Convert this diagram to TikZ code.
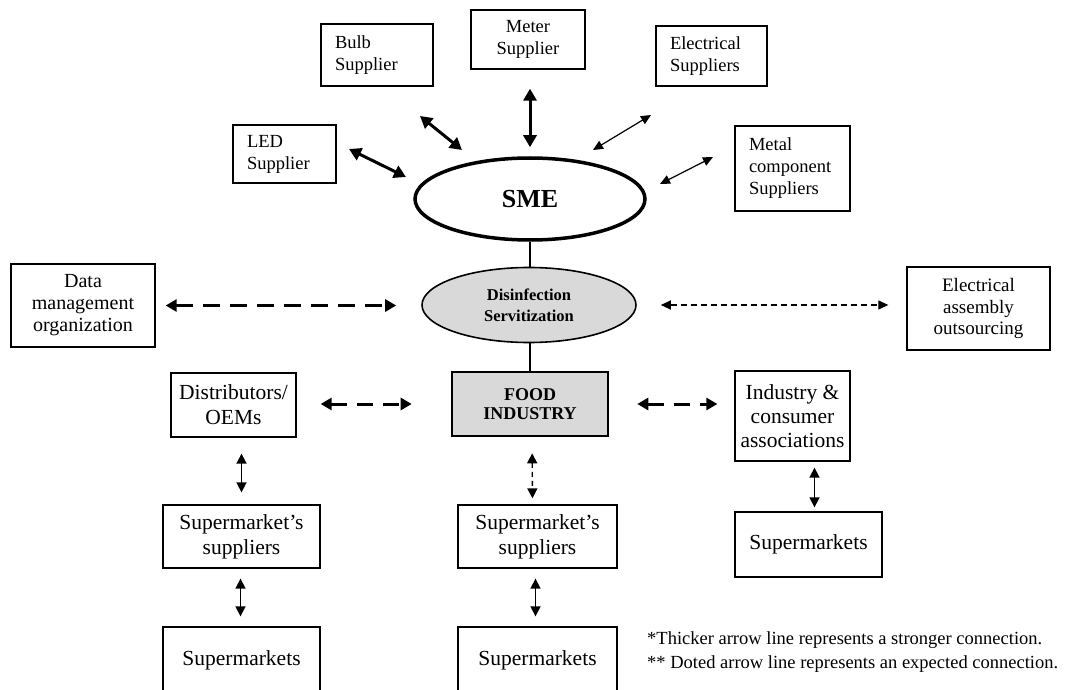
\documentclass[tikz,border=0pt]{standalone}
\usepackage{fontspec}
\setmainfont{Liberation Serif}
\usetikzlibrary{arrows.meta,shapes.geometric,calc}
\newcommand\fsz[2]{\fontsize{#1}{#2}\selectfont}
\definecolor{boxgray}{HTML}{D9D9D9}
\tikzset{
  box/.style={draw, line width=1.3pt, inner sep=0pt, align=center, font=\fsz{19}{22}},
  bigbox/.style={draw, line width=1.3pt, inner sep=0pt, align=center, font=\fsz{21.5}{25}},
  lbox/.style={draw, line width=1.3pt, inner ysep=0pt, inner xsep=14pt, align=left, font=\fsz{18.5}{22}},
  thickarr/.style={line width=3pt, {Triangle[length=12pt,width=13pt]}-{Triangle[length=12pt,width=13pt]}},
  thinarr/.style={line width=1.2pt, {Triangle[length=10pt,width=9pt]}-{Triangle[length=10pt,width=9pt]}},
  medarr/.style={line width=1.6pt, {Triangle[length=10pt,width=10pt]}-{Triangle[length=10pt,width=10pt]}},
  thickdash/.style={line width=3pt, dash pattern=on 17pt off 10pt, {Triangle[length=11pt,width=12pt]}-{Triangle[length=11pt,width=12pt]}},
  thindash/.style={line width=1.2pt, dash pattern=on 6pt off 4pt, {Triangle[length=10pt,width=9pt]}-{Triangle[length=10pt,width=9pt]}},
  vdash/.style={line width=1.4pt, dash pattern=on 5pt off 4pt, {Triangle[length=10pt,width=10pt]}-{Triangle[length=10pt,width=10pt]}},
  link/.style={line width=1.8pt},
}
\begin{document}
\begin{tikzpicture}[x=1pt,y=-1pt]
\useasboundingbox (0,0) rectangle (1077,690);
\clip (0,0) rectangle (1077,690);

% supplier boxes
\node[lbox, text width=84pt, minimum height=62pt] (bulb) at (377,55) {Bulb\\Supplier};
\node[box, font=\fsz{18.5}{22}, minimum width=114pt, minimum height=59pt] (meter) at (528,39.5) {Meter\\Supplier};
\node[lbox, text width=83pt, minimum height=60pt] (elec) at (711.5,56) {Electrical\\Suppliers};
\node[lbox, text width=75pt, minimum height=58pt] (led) at (284.5,154) {LED\\Supplier};
\node[lbox, text width=87pt, minimum height=85pt] (metal) at (792.5,168.5) {Metal\\component\\Suppliers};

% central chain
\node[draw, ellipse, line width=3.5pt, minimum width=230pt, minimum height=82pt, inner sep=0pt,
      font=\fsz{26}{30}\bfseries] (sme) at (530,199) {SME};
\node[draw, ellipse, line width=1.6pt, fill=boxgray, minimum width=214pt, minimum height=75pt, inner sep=0pt,
      align=center, font=\fsz{16.5}{21}\bfseries] (dis) at (529,305) {Disinfection\\Servitization};
\node[draw, line width=2.6pt, fill=boxgray, minimum width=156pt, minimum height=64pt, inner sep=0pt,
      align=center, font=\fsz{18}{19.5}\bfseries] (food) at (530,404) {FOOD\\INDUSTRY};

% side boxes
\node[box, font=\fsz{20}{22}, minimum width=144pt, minimum height=83pt] (dm) at (83,305.5) {Data\\management\\organization};
\node[box, minimum width=143pt, minimum height=83pt, font=\fsz{19}{21.5}] (ea) at (978.5,308.5) {Electrical\\assembly\\outsourcing};
\node[bigbox, minimum width=125pt, minimum height=64pt] (dist) at (233.5,405) {Distributors/\\OEMs};
\node[bigbox, font=\fsz{21.5}{24}, minimum width=115pt, minimum height=90pt] (ind) at (792.5,416) {Industry \&\\consumer\\associations};

% lower boxes
\node[bigbox, minimum width=157pt, minimum height=63pt] (ss1) at (241.5,536.5) {Supermarket's\\suppliers};
\node[bigbox, minimum width=159pt, minimum height=63pt] (ss2) at (537.5,536.5) {Supermarket's\\suppliers};
\node[bigbox, minimum width=147pt, minimum height=65pt] (sm3) at (808.5,544.5) {Supermarkets};
\node[bigbox, minimum width=157pt, minimum height=66pt] (sm1) at (241.5,660) {Supermarkets};
\node[bigbox, minimum width=159pt, minimum height=66pt] (sm2) at (537.5,660) {Supermarkets};

% arrow end points (diagonals)
\coordinate (ledA) at (349,149);  \coordinate (ledB) at (406,177);
\coordinate (bulbA) at (420,116); \coordinate (bulbB) at (462,150);
\coordinate (elecA) at (651,115); \coordinate (elecB) at (593,150);
\coordinate (metA) at (713,157);  \coordinate (metB) at (660,184);

% solid links in the chain
\draw[link] (sme.south) -- (sme.south |- dis.north);
\draw[link] (dis.south -| food.north) -- (food.north);

% supplier arrows
\draw[thickarr] (ledA) -- (ledB);
\draw[thickarr] (bulbA) -- (bulbB);
\draw[thickarr, shorten <=19pt, shorten >=9pt] (meter.south -| sme.north) -- (sme.north);
\draw[thinarr] (elecA) -- (elecB);
\draw[thinarr] (metA) -- (metB);

% horizontal dashed arrows
\draw[thickdash, shorten <=10pt, shorten >=25pt] (dm.east) -- (dm.east -| dis.west);
\draw[thindash, shorten <=24pt, shorten >=18pt] (dis.east) -- (dis.east -| ea.west);
\draw[thickdash, dash pattern=on 16pt off 10pt, shorten <=24pt, shorten >=39pt] (dist.east |- food.west) -- (food.west);
\draw[thickdash, dash pattern=on 16pt off 10pt, shorten <=28pt, shorten >=17pt] (food.east) -- (food.east -| ind.west);

% vertical arrows
\draw[medarr, shorten <=16pt, shorten >=12pt] (dist.south -| ss1.north) -- (ss1.north);
\draw[vdash, shorten <=16pt, shorten >=6pt] ($(food.south)+(2,0)$) -- ($(ss2.north)+(-5,0)$);
\draw[medarr, shorten <=6pt, shorten >=4pt] ($(ind.south)+(22,0)$) -- ($(sm3.north)+(6,0)$);
\draw[medarr, shorten <=10pt, shorten >=10pt] ($(ss1.south)+(-1,0)$) -- ($(sm1.north)+(-1,0)$);
\draw[medarr, shorten <=10pt, shorten >=10pt] ($(ss2.south)+(-2,0)$) -- ($(sm2.north)+(-2,0)$);

% footnotes
\node[anchor=base west, inner sep=0pt, font=\fsz{18.5}{22}] (note1) at (647,644) {*Thicker arrow line represents a stronger connection.};
\node[anchor=base west, inner sep=0pt, font=\fsz{18.5}{22}] (note2) at (647,668) {** Doted arrow line represents an expected connection.};
\end{tikzpicture}
\end{document}
